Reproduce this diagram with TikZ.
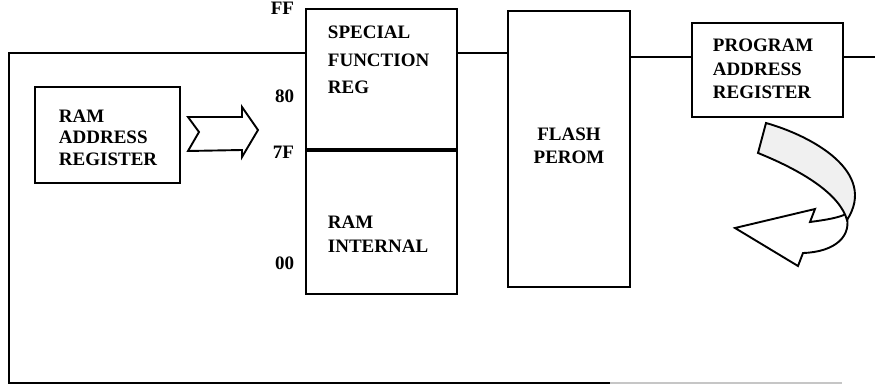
\documentclass[tikz,border=0pt]{standalone}
\usepackage{fontspec}
\setmainfont{Liberation Serif}
\usetikzlibrary{positioning}

\begin{document}
\begin{tikzpicture}[x=1pt, y=-1pt, line width=1.9pt,
  box/.style={draw, inner sep=0pt},
  txt/.style={font=\fontsize{19}{#1}\selectfont\bfseries, align=left, inner sep=0pt, anchor=base west},
  addr/.style={font=\fontsize{19}{21}\selectfont\bfseries, inner sep=0pt, anchor=base east}]
  \useasboundingbox (0,0) rectangle (875,385);

  %% memory blocks
  \node[box, minimum width=145pt, minimum height=96pt] (rar) at (107.5,135) {};
  \node[box, minimum width=151pt, minimum height=140pt] (sfr) at (381.5,79) {};
  \node[box, minimum width=151pt, minimum height=143pt, below=0pt of sfr] (ramint) {};
  \node[box, minimum width=122pt, minimum height=276pt] (flash) at (569,149) {};
  \node[box, minimum width=151pt, minimum height=94pt] (par) at (767.5,70) {};

  %% texts in the blocks (placed by the baseline of their last line)
  \node[txt=21.5] (rartxt) at (58,165) {RAM\\ADDRESS\\REGISTER};
  \node[txt=27.5] (sfrtxt) at (327,94) {SPECIAL\\FUNCTION\\REG};
  \node[txt=24] (ramtxt) at (327,252) {RAM\\INTERNAL};
  \node[txt=23, align=center, anchor=base] (flashtxt) at (569,163) {FLASH\\PEROM};
  \node[txt=23.5] (partxt) at (712,99) {PROGRAM\\ADDRESS\\REGISTER};

  %% address marks
  \node[addr] (aFF) at (295,15) {FF};
  \node[addr] (a80) at (295,103) {80};
  \node[addr] (a7F) at (295,158) {7F};
  \node[addr] (a00) at (295,269) {00};

  %% bus lines
  \coordinate (tl) at (9,53);
  \coordinate (bl) at (9,383);
  \coordinate (bm) at (610,383);
  \coordinate (br) at (842,383);
  \coordinate (pbus) at (875,57);
  \draw (sfr.west |- tl) -- (tl) -- (bl) -- (bm);
  \draw[gray!45, line width=1.2pt] (bm) -- (br);
  \draw (sfr.east |- tl) -- (flash.west |- tl);
  \draw (flash.east |- pbus) -- (par.west |- pbus);
  \draw (par.east |- pbus) -- (pbus);

  %% hollow arrow into the RAM
  \draw[fill=white, line join=miter] (188,117) -- (242,117) -- (242,107) -- (258,130)
    -- (242,157) -- (242,150) -- (188,151) -- (199,132) -- cycle;

  %% curved arrow under the program address register
  \draw[fill=white, line join=miter] (846,214) .. controls (853,236) and (835,252) .. (803,253)
    -- (798,266) -- (735,228) -- (815,209) -- (810,222)
    .. controls (825,220) and (838,218) .. (846,214) -- cycle;
  \draw[fill=gray!12, line join=miter] (766,123) .. controls (812,136) and (878,172) .. (847,220)
    .. controls (840,195) and (805,172) .. (758,153) -- cycle;
\end{tikzpicture}
\end{document}
